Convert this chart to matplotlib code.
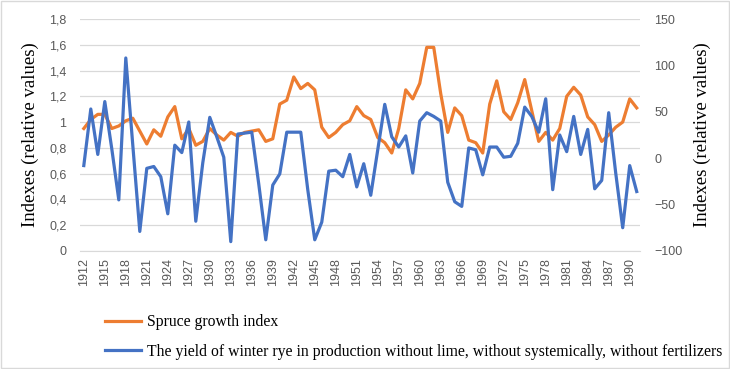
import matplotlib
matplotlib.use("Agg")
import matplotlib.pyplot as plt
from matplotlib.ticker import FixedLocator, FuncFormatter, MultipleLocator
from matplotlib.patches import Rectangle

# years on the category axis
years = list(range(1912, 1992))

# spruce growth index (left axis)
spruce = [0.95, 1.02, 1.06, 1.06, 0.95, 0.97, 1.01, 1.03, 0.93, 0.83,
          0.94, 0.89, 1.04, 1.12, 0.87, 0.95, 0.82, 0.85, 0.95, 0.90,
          0.86, 0.92, 0.89, 0.92, 0.93, 0.94, 0.85, 0.87, 1.14, 1.17,
          1.35, 1.26, 1.30, 1.25, 0.96, 0.88, 0.92, 0.98, 1.01, 1.12,
          1.05, 1.02, 0.88, 0.84, 0.76, 0.95, 1.25, 1.18, 1.30, 1.58,
          1.58, 1.22, 0.92, 1.11, 1.05, 0.86, 0.84, 0.76, 1.14, 1.32,
          1.08, 1.02, 1.15, 1.33, 1.09, 0.85, 0.92, 0.86, 0.95, 1.20,
          1.27, 1.21, 1.04, 0.98, 0.85, 0.90, 0.96, 1.00, 1.18, 1.11]

# winter rye yield (right axis)
rye = [-8, 53, 4, 61, 10, -45, 108, 14, -79, -11,
       -9, -20, -60, 14, 6, 39, -68, -5, 44, 23,
       1, -90, 26, 27, 28, -28, -88, -29, -17, 28,
       28, 28, -34, -88, -69, -14, -13, -20, 4, -31,
       -6, -40, 9, 58, 23, 12, 24, -16, 40, 49,
       45, 40, -26, -47, -52, 11, 9, -18, 12, 12,
       1, 2, 16, 55, 45, 28, 64, -34, 25, 7,
       45, 4, 31, -33, -24, 49, -16, -75, -8, -36]

left_label = "Indexes (relative values)"
right_label = "Indexes (relative values)"
spruce_name = "Spruce growth index"
rye_name = "The yield of winter rye in production without lime, without systemically, without fertilizers"

orange = "#ED7D31"
blue = "#4472C4"
tick_grey = "#595959"
serif = "Liberation Serif"
sans = "Liberation Sans"

fig = plt.figure(figsize=(7.3, 3.69), dpi=100)
fig.patch.set_facecolor("white")
fig.patches.append(Rectangle((0.002, 0.003), 0.996, 0.994, transform=fig.transFigure,
                             fill=False, edgecolor="#d9d9d9", linewidth=1.0))

ax = fig.add_axes([0.110, 0.320, 0.767, 0.6285])
ax2 = ax.twinx()

ln1, = ax.plot(years, spruce, color=orange, linewidth=2.3, solid_joinstyle="round", zorder=3)
ln2, = ax2.plot(years, rye, color=blue, linewidth=2.3, solid_joinstyle="round", zorder=3)

ax.set_xlim(1911.5, 1991.5)
ax.set_ylim(0, 1.8)
ax2.set_ylim(-100, 150)
ax.yaxis.set_major_locator(MultipleLocator(0.2))
ax2.yaxis.set_major_locator(MultipleLocator(50))
ax.yaxis.set_major_formatter(FuncFormatter(lambda v, p: ("%g" % round(v, 1)).replace(".", ",")))
ax.xaxis.set_major_locator(FixedLocator(years[::3]))

ax.grid(axis="y", color="#d9d9d9", linewidth=0.9)
ax.set_axisbelow(True)
for a in (ax, ax2):
    for s in a.spines.values():
        s.set_visible(False)
ax.spines["bottom"].set_visible(True)
ax.spines["bottom"].set_color("#d9d9d9")

ax.tick_params(axis="x", length=0, pad=5, labelsize=9, labelcolor=tick_grey, rotation=90)
ax.tick_params(axis="y", length=0, pad=10, labelsize=9, labelcolor=tick_grey)
ax2.tick_params(axis="y", length=0, pad=10, labelsize=9, labelcolor=tick_grey)
for lab in ax.get_xticklabels() + ax.get_yticklabels() + ax2.get_yticklabels():
    lab.set_family(sans)

ax.set_ylabel(left_label, family=serif, fontsize=13.5, labelpad=7)
ax2.set_ylabel(right_label, family=serif, fontsize=13.5, rotation=90, labelpad=8)

fig.legend([ln1, ln2], [spruce_name, rye_name], loc="upper left",
           bbox_to_anchor=(0.135, 0.165), frameon=False, handlelength=2.3,
           labelspacing=0.85, handletextpad=0.4, borderaxespad=0,
           prop={"family": serif, "size": 11.35})

fig.savefig("out.png", dpi=100)
